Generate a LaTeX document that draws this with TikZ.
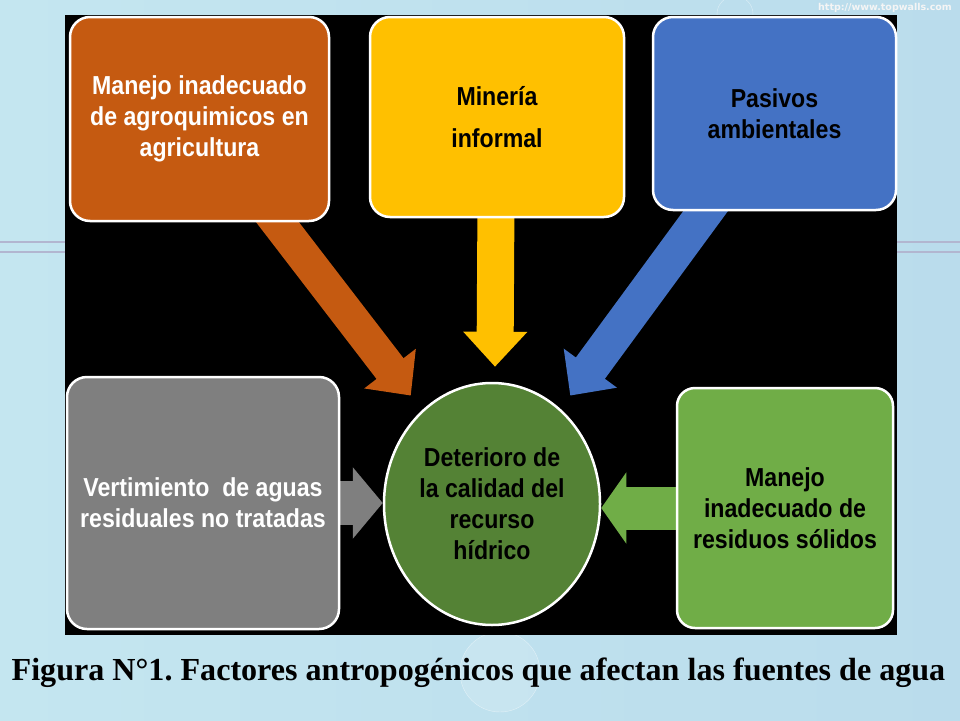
\documentclass[tikz,border=0pt]{standalone}
\usepackage{fontspec}
\setmainfont{Liberation Serif}
\newfontfamily\boxfont[FakeStretch=0.89]{Liberation Sans}
\newfontfamily\webfont{DejaVu Sans}
\usetikzlibrary{arrows.meta}
\usetikzlibrary{shapes.geometric}
\usetikzlibrary{calc}

\definecolor{agroOrange}{RGB}{197,90,17}
\definecolor{mineYellow}{RGB}{255,192,0}
\definecolor{pasBlue}{RGB}{68,114,196}
\definecolor{vertGray}{RGB}{127,127,127}
\definecolor{solGreen}{RGB}{112,173,71}
\definecolor{detGreen}{RGB}{84,130,53}
\definecolor{bgLeft}{RGB}{196,230,240}
\definecolor{bgRight}{RGB}{186,220,236}
\definecolor{bgLine}{RGB}{178,182,208}

\pgfdeclarelayer{bg}
\pgfdeclarelayer{arrowlayer}
\pgfsetlayers{bg,arrowlayer,main}

\tikzset{
  factor/.style={draw=white, line width=2.5pt, rounded corners=20pt, align=center, inner sep=0pt,
    font=\boxfont\bfseries\fontsize{26}{31}\selectfont},
  fat/.style args={#1:#2:#3}{line width=#1, -{Triangle[length=#2,width=#3]}}
}

\begin{document}
\frenchspacing
\begin{tikzpicture}[x=1pt, y=-1pt]
\useasboundingbox (0,0) rectangle (960,720);

\begin{pgfonlayer}{bg}
% slide background
\shade[left color=bgLeft, right color=bgRight] (0,0) rectangle (960,720);
\draw[bgLine, line width=2pt] (0,242) -- (960,242);
\draw[bgLine, line width=2pt] (0,252) -- (960,252);
\draw[white, opacity=0.5, fill=white, fill opacity=0.15] (500,672) circle (40);
\draw[white, opacity=0.5] (735,14) circle (18);
\node[text=white!92!gray, font=\webfont\bfseries\fontsize{9.5}{10}\selectfont] (web) at (885,8) {http://www.topwalls.com};
% black panel
\fill[black] (65,15) rectangle (897,635);
\end{pgfonlayer}

% factors
\node[factor, fill=agroOrange, text=white, minimum width=259, minimum height=204] (agro) at (199.5,119)
  {Manejo inadecuado\\de agroquimicos en\\agricultura};
\node[factor, fill=mineYellow, minimum width=254, minimum height=200,
  font=\boxfont\bfseries\fontsize{26}{42}\selectfont] (mine) at (497,117) {Minería\\informal};
\node[factor, fill=pasBlue, minimum width=243, minimum height=193] (pasivos) at (774.5,113.5)
  {Pasivos\\ambientales};
\node[factor, fill=vertGray, text=white, minimum width=272, minimum height=252] (vert) at (203,503)
  {Vertimiento \ de aguas\\residuales no tratadas};
\node[factor, fill=solGreen, rounded corners=18pt, minimum width=216, minimum height=240] (solidos) at (785,508)
  {Manejo\\inadecuado de\\residuos sólidos};

% centre
\node[factor, ellipse, fill=detGreen, minimum width=216, minimum height=242] (deter) at (492,504)
  {Deterioro de\\la calidad del\\recurso\\hídrico};

\coordinate (agroTip) at ($(deter.north west)+(-4,-22)$);
\coordinate (mineTip) at ($(deter.north)+(3,-15)$);
\coordinate (pasTip) at ($(deter.north east)+(1,-22)$);

%%%Arrows
\begin{pgfonlayer}{arrowlayer}
\draw[fat=34pt:34pt:63pt, agroOrange] ($(agro.south)+(55,-30)$) -- (agroTip);
\draw[fat=37pt:35pt:62pt, mineYellow] ($(mine.south)+(-1,-20)$) -- (mineTip);
\draw[fat=36pt:34pt:64pt, pasBlue] ($(pasivos.south)+(-47,-30)$) -- (pasTip);
\draw[fat=44pt:30pt:70pt, vertGray] ($(vert.east)+(-10,0)$) -- (vert.east -| deter.west);
\draw[fat=43pt:25pt:70pt, solGreen] ($(solidos.west)+(10,0)$) -- (solidos.west -| deter.east);
\end{pgfonlayer}

% caption
\node[anchor=base, font=\bfseries\fontsize{32.1}{36}\selectfont] (caption) at (478.5,680)
  {Figura N°1. Factores antropogénicos que afectan las fuentes de agua};

\end{tikzpicture}
\end{document}
